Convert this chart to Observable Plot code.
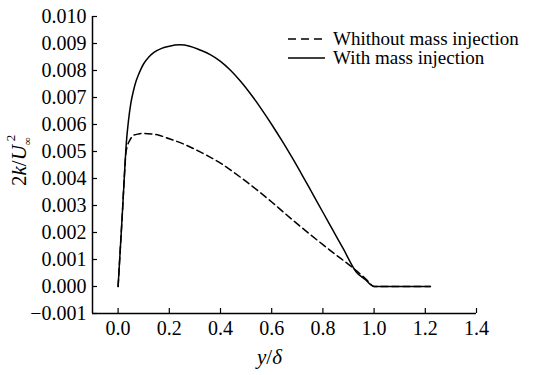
<!DOCTYPE html>
<html>
<head>
<meta charset="utf-8">
<script src="https://cdn.jsdelivr.net/npm/d3@7"></script>
<script src="https://cdn.jsdelivr.net/npm/@observablehq/plot@0.6"></script>
<style>
  html, body { margin: 0; padding: 0; background: #fff; }
  svg { display: block; }
  svg text { font-family: "Liberation Serif", "DejaVu Serif", "Times New Roman", Times, serif !important; }
</style>
</head>
<body>
<div id="chart"></div>
<script>
// y/δ positions and 2k/U∞² values
const withoutX = [0, 0.008, 0.016, 0.024, 0.03, 0.036, 0.045, 0.06, 0.08, 0.1, 0.13, 0.16, 0.2, 0.25, 0.3, 0.35, 0.4, 0.45, 0.5, 0.55, 0.6, 0.65, 0.7, 0.75, 0.8, 0.85, 0.9, 0.935, 0.97, 1.0, 1.1, 1.22];
const withoutY = [0, 0.0013, 0.0026, 0.0040, 0.0049, 0.0052, 0.0054, 0.0056, 0.00565, 0.00567, 0.00565, 0.0056, 0.00547, 0.0053, 0.00508, 0.00484, 0.00457, 0.00424, 0.00389, 0.00352, 0.00313, 0.00272, 0.00232, 0.00193, 0.00155, 0.00118, 0.00082, 0.00055, 0.00026, 0, 0, 0];

const withX = [0, 0.008, 0.016, 0.024, 0.032, 0.04, 0.05, 0.06, 0.07, 0.08, 0.09, 0.1, 0.12, 0.14, 0.17, 0.2, 0.24, 0.28, 0.32, 0.36, 0.4, 0.44, 0.48, 0.52, 0.56, 0.6, 0.64, 0.68, 0.72, 0.76, 0.8, 0.84, 0.88, 0.93, 0.965, 1.0, 1.1, 1.22];
const withY = [0, 0.0013, 0.0026, 0.0040, 0.0053, 0.0061, 0.0068, 0.00725, 0.0076, 0.00785, 0.00807, 0.00825, 0.0085, 0.00867, 0.00882, 0.0089, 0.00895, 0.0089, 0.00876, 0.00859, 0.00834, 0.0080, 0.00758, 0.0071, 0.00657, 0.0060, 0.0054, 0.00477, 0.00411, 0.00343, 0.00275, 0.00207, 0.00139, 0.00054, 0.00026, 0, 0, 0];

const xTicks = [0, 0.2, 0.4, 0.6, 0.8, 1.0, 1.2, 1.4];
const yTicks = [-0.001, 0, 0.001, 0.002, 0.003, 0.004, 0.005, 0.006, 0.007, 0.008, 0.009, 0.010];
const seriesNames = ["Whithout mass injection", "With mass injection"];

const withoutData = withoutX.map((x, i) => ({x, y: withoutY[i]}));
const withData = withX.map((x, i) => ({x, y: withY[i]}));

const font = "'Liberation Serif', 'DejaVu Serif', 'Times New Roman', serif";

const plot = Plot.plot({
  width: 547,
  height: 375,
  marginLeft: 92,
  marginRight: 71,
  marginTop: 16,
  marginBottom: 62,
  style: {fontFamily: font, fontSize: "20px", color: "#000", background: "#fff"},
  x: {domain: [-0.1, 1.4], label: null},
  y: {domain: [-0.001, 0.010], label: null},
  marks: [
    Plot.ruleX([-0.1], {stroke: "#000", strokeWidth: 1.5}),
    Plot.ruleY([-0.001], {stroke: "#000", strokeWidth: 1.5}),
    Plot.axisX(xTicks, {tickSize: -5, tickPadding: 12, tickFormat: d3.format(".1f"), fontSize: 20, stroke: "#000", strokeWidth: 1.2}),
    Plot.axisY(yTicks, {tickSize: -5, tickPadding: 11, tickFormat: d => d3.format(".3f")(d).replace("-", "\u2212"), fontSize: 20, stroke: "#000", strokeWidth: 1.2}),
    Plot.line(withoutData, {x: "x", y: "y", curve: "monotone-x", stroke: "#000", strokeWidth: 1.5, strokeDasharray: "7,4"}),
    Plot.line(withData, {x: "x", y: "y", curve: "monotone-x", stroke: "#000", strokeWidth: 1.5})
  ]
});

const svg = d3.select(plot);
// Legend
const lg = svg.append("g").attr("font-family", font).attr("font-size", 19).attr("fill", "#000").attr("text-anchor", "start");
[[39, "8,5"], [58, null]].forEach(([yy, dash], i) => {
  const l = lg.append("line").attr("x1", 288).attr("x2", 325).attr("y1", yy).attr("y2", yy)
    .attr("stroke", "#000").attr("stroke-width", 1.5);
  if (dash) l.attr("stroke-dasharray", dash);
  lg.append("text").attr("x", 333).attr("y", yy + 6).attr("text-anchor", "start").text(seriesNames[i]);
});

// Y label: 2k/U∞²
const yl = svg.append("text")
  .attr("transform", "translate(26,186) rotate(-90)")
  .attr("text-anchor", "start")
  .attr("font-family", font).attr("font-size", 21).attr("fill", "#000");
yl.append("tspan").text("2");
yl.append("tspan").attr("font-style", "italic").text("k");
yl.append("tspan").text("/");
yl.append("tspan").attr("font-style", "italic").text("U");
yl.append("tspan").attr("font-size", 11).attr("dy", 5).text("\u221E");
yl.append("tspan").attr("font-size", 13).attr("dy", -16).attr("dx", -4).text("2");

// X label: y/δ
const xl = svg.append("text")
  .attr("x", 257).attr("y", 364)
  .attr("text-anchor", "start")
  .attr("font-family", font).attr("font-size", 21).attr("fill", "#000");
xl.append("tspan").attr("font-style", "italic").text("y");
xl.append("tspan").text("/");
xl.append("tspan").attr("font-style", "italic").text("\u03B4");

document.getElementById("chart").appendChild(plot);
</script>
</body>
</html>
